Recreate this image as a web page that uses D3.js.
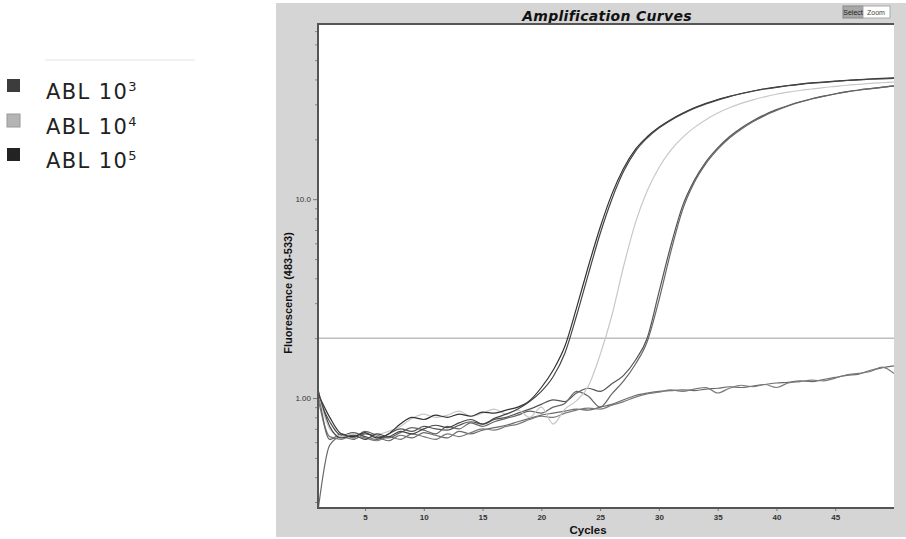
<!DOCTYPE html>
<html>
<head>
<meta charset="utf-8">
<script src="https://cdn.jsdelivr.net/npm/d3@7"></script>
<style>
  body { margin: 0; background: #fff; }
  svg { display: block; }
</style>
</head>
<body>
<div id="chart"></div>
<script>

// cycles 1..50
var cycles = d3.range(1, 51)

// fluorescence (483-533), one value per cycle
var abl5a = [1.05,0.80,0.66,0.64,0.67,0.63,0.66,0.74,0.80,0.78,0.82,0.80,0.83,0.81,0.85,0.84,0.87,0.90,0.97,1.13,
             1.38,1.82,2.85,4.6,7.2,10.6,14.3,17.8,20.6,23.0,25.1,27.0,28.8,30.3,31.7,32.9,34.0,35.0,35.9,36.6,
             37.3,37.9,38.4,38.8,39.2,39.6,39.9,40.2,40.5,40.8]
var abl5b = [1.10,0.72,0.63,0.65,0.62,0.66,0.64,0.68,0.66,0.70,0.73,0.71,0.75,0.78,0.74,0.79,0.83,0.88,0.96,1.08,
             1.28,1.68,2.6,4.2,6.7,10.0,13.8,17.4,20.3,22.8,24.9,26.8,28.6,30.1,31.5,32.8,33.9,34.9,35.8,36.5,
             37.2,37.8,38.3,38.7,39.1,39.5,39.8,40.1,40.3,40.5]
var abl4a = [1.08,0.70,0.64,0.66,0.62,0.65,0.68,0.72,0.79,0.83,0.80,0.82,0.86,0.81,0.84,0.88,0.83,0.87,0.80,0.90,
             0.74,0.88,0.97,1.15,1.65,2.6,4.6,7.6,11.0,14.4,17.6,20.4,22.9,25.1,27.1,28.8,30.3,31.6,32.7,33.7,
             34.5,35.2,35.8,36.4,36.9,37.4,37.8,38.2,38.5,38.8]
var abl3a = [1.02,0.76,0.65,0.67,0.64,0.62,0.66,0.70,0.68,0.72,0.70,0.69,0.73,0.76,0.74,0.78,0.80,0.84,0.88,0.93,
             0.98,0.96,1.06,1.12,1.08,1.18,1.30,1.55,2.0,3.4,5.8,9.2,12.4,15.4,18.1,20.6,22.8,24.8,26.6,28.2,
             29.6,30.9,32.0,33.0,33.9,34.7,35.4,36.0,36.6,37.1]
var abl3b = [1.12,0.62,0.66,0.63,0.68,0.65,0.63,0.67,0.71,0.69,0.66,0.72,0.70,0.75,0.72,0.76,0.79,0.82,0.86,0.84,
             0.90,0.94,1.08,1.02,0.90,1.05,1.22,1.48,1.92,3.1,5.4,8.8,12.1,15.1,17.8,20.3,22.5,24.5,26.3,27.9,
             29.4,30.7,31.9,32.9,33.8,34.6,35.3,35.9,36.5,37.0]
var flatA = [0.27,0.58,0.64,0.62,0.66,0.64,0.61,0.65,0.63,0.67,0.65,0.63,0.68,0.66,0.69,0.71,0.73,0.76,0.79,0.82,
             0.84,0.86,0.88,0.87,0.90,0.93,0.98,1.03,1.06,1.08,1.09,1.10,1.09,1.11,1.12,1.14,1.13,1.15,1.17,1.19,
             1.20,1.22,1.21,1.24,1.27,1.30,1.32,1.38,1.42,1.45]
var flatB = [1.00,0.64,0.62,0.65,0.63,0.61,0.64,0.62,0.66,0.64,0.62,0.66,0.64,0.67,0.70,0.69,0.72,0.74,0.78,0.81,
             0.80,0.84,0.87,0.89,0.88,0.92,0.96,1.01,1.05,1.07,1.10,1.08,1.11,1.13,1.06,1.12,1.16,1.14,1.17,1.13,
             1.19,1.21,1.23,1.22,1.26,1.31,1.33,1.36,1.43,1.33]

var threshold = 2.0

var series = [
    {name: 'flatA', color: '#6a6a6a', values: flatA},
    {name: 'flatB', color: '#7a7a7a', values: flatB},
    {name: 'abl3a', color: '#555', values: abl3a},
    {name: 'abl3b', color: '#666', values: abl3b},
    {name: 'abl4a', color: '#c8c8c8', values: abl4a},
    {name: 'abl5a', color: '#333', values: abl5a},
    {name: 'abl5b', color: '#454545', values: abl5b}
]

var legendLabels = ['ABL 10', 'ABL 10', 'ABL 10']
var legendPowers = ['3', '4', '5']
var legendColors = ['#3c3c3c', '#b4b4b4', '#232323']

var xTicks = [5, 10, 15, 20, 25, 30, 35, 40, 45]
var yMinor = [0.3,0.4,0.5,0.6,0.7,0.8,0.9,2,3,4,5,6,7,8,9,20,30,40,50,60,70]
var yMajor = [1, 10]
var yLabels = ['1.00', '10.0']

var width = 906,
    height = 539,
    plot = {left: 318, right: 894, top: 24, bottom: 508}

var xScale = d3.scaleLinear().domain([1, 50]).range([plot.left, plot.right])
var yScale = d3.scaleLog().domain([0.28, 76]).range([plot.bottom, plot.top])

var svg = d3.select('#chart')
    .append('svg')
    .attr('width', width)
    .attr('height', height)

// ---- legend ----

svg.append('line')
    .attr('x1', 45).attr('x2', 195)
    .attr('y1', 60).attr('y2', 60)
    .attr('stroke', '#eeeeee')
    .attr('stroke-width', 1.5)

var legend = svg.append('g')
    .selectAll('g')
    .data(legendLabels)
    .join('g')
    .attr('transform', (d, i) => `translate(0,${[0, 35, 69][i]})`)

legend.append('rect')
    .attr('x', 7).attr('y', 79)
    .attr('width', 13).attr('height', 13)
    .attr('fill', (d, i) => legendColors[i])
    .attr('stroke', (d, i) => i == 1 ? '#999' : 'none')

var legendText = legend.append('text')
    .attr('x', 46)
    .attr('y', 99)
    .attr('font-family', 'DejaVu Sans')
    .attr('font-size', '21px')
    .attr('letter-spacing', '1.4px')
    .attr('fill', '#222')

legendText.append('tspan').text(d => d)
legendText.append('tspan')
    .attr('dy', '-8')
    .attr('font-size', '13px')
    .attr('letter-spacing', '0px')
    .text((d, i) => legendPowers[i])

// ---- instrument panel ----

svg.append('rect')
    .attr('x', 276).attr('y', 3)
    .attr('width', 630).attr('height', 534)
    .attr('fill', '#d5d5d5')

svg.append('rect')
    .attr('x', plot.left).attr('y', plot.top)
    .attr('width', plot.right - plot.left)
    .attr('height', plot.bottom - plot.top)
    .attr('fill', '#fff')

svg.append('text')
    .attr('x', 607)
    .attr('y', 21)
    .attr('text-anchor', 'middle')
    .attr('font-family', 'DejaVu Sans')
    .attr('font-style', 'italic')
    .attr('font-weight', 'bold')
    .attr('font-size', '14px')
    .attr('letter-spacing', '0.3px')
    .attr('fill', '#111')
    .text('Amplification Curves')

// select / zoom buttons
svg.append('rect')
    .attr('x', 843).attr('y', 6)
    .attr('width', 20).attr('height', 12)
    .attr('fill', '#a8a8a8')
    .attr('stroke', '#888')
svg.append('rect')
    .attr('x', 863).attr('y', 6)
    .attr('width', 27).attr('height', 12)
    .attr('fill', '#fff')
    .attr('stroke', '#aaa')
svg.append('text')
    .attr('x', 853).attr('y', 15)
    .attr('text-anchor', 'middle')
    .attr('font-family', 'Liberation Sans Narrow, Liberation Sans')
    .attr('font-size', '7px')
    .attr('fill', '#222')
    .text('Select')
svg.append('text')
    .attr('x', 876).attr('y', 15)
    .attr('text-anchor', 'middle')
    .attr('font-family', 'Liberation Sans Narrow, Liberation Sans')
    .attr('font-size', '7px')
    .attr('fill', '#444')
    .text('Zoom')

// ---- curves ----

svg.append('clipPath')
    .attr('id', 'clip')
    .append('rect')
    .attr('x', plot.left).attr('y', plot.top)
    .attr('width', plot.right - plot.left)
    .attr('height', plot.bottom - plot.top)

var line = d3.line()
    .x((d, i) => xScale(cycles[i]))
    .y(d => yScale(d))
    .curve(d3.curveMonotoneX)

var curves = svg.append('g').attr('clip-path', 'url(#clip)')

curves.append('line')
    .attr('x1', plot.left).attr('x2', plot.right)
    .attr('y1', yScale(threshold)).attr('y2', yScale(threshold))
    .attr('stroke', '#bdbdbd')
    .attr('stroke-width', 1.6)

curves.selectAll('path')
    .data(series)
    .join('path')
    .attr('fill', 'none')
    .attr('stroke', d => d.color)
    .attr('stroke-width', 1.2)
    .attr('d', d => line(d.values))

// ---- axes ----

var yAxisMinor = d3.axisLeft(yScale)
    .tickValues(yMinor)
    .tickSize(3)
    .tickFormat('')

var yAxis = d3.axisLeft(yScale)
    .tickValues(yMajor)
    .tickSize(5)
    .tickPadding(2)
    .tickFormat((d, i) => yLabels[i])

var xAxis = d3.axisBottom(xScale)
    .tickValues(xTicks)
    .tickSize(3)
    .tickPadding(3)

svg.append('g')
    .attr('transform', `translate(${plot.left},0)`)
    .call(yAxisMinor)
    .call(g => g.select('.domain').remove())
    .call(g => g.selectAll('line').attr('stroke', '#888'))

svg.append('g')
    .attr('transform', `translate(${plot.left},0)`)
    .call(yAxis)
    .call(g => g.select('.domain').remove())
    .call(g => g.selectAll('line').attr('stroke', '#777'))
    .call(g => g.selectAll('text')
        .attr('font-family', 'Liberation Sans Narrow, Liberation Sans')
        .attr('font-size', '8px')
        .attr('fill', '#333'))

svg.append('g')
    .attr('transform', `translate(0,${plot.bottom})`)
    .call(xAxis)
    .call(g => g.select('.domain').remove())
    .call(g => g.selectAll('line').attr('stroke', '#777'))
    .call(g => g.selectAll('text')
        .attr('font-family', 'Liberation Sans Narrow, Liberation Sans')
        .attr('font-size', '8px')
        .attr('font-weight', 'bold')
        .attr('fill', '#333'))

// frame: dark top, left and bottom edges
svg.append('path')
    .attr('d', `M${plot.right},${plot.top}H${plot.left}V${plot.bottom}H${plot.right}`)
    .attr('fill', 'none')
    .attr('stroke', '#555')
    .attr('stroke-width', 2)

svg.append('text')
    .attr('x', 588)
    .attr('y', 534)
    .attr('text-anchor', 'middle')
    .attr('font-family', 'Liberation Sans Narrow, Liberation Sans')
    .attr('font-weight', 'bold')
    .attr('font-size', '11.5px')
    .attr('fill', '#111')
    .text('Cycles')

svg.append('text')
    .attr('transform', `translate(292,293) rotate(-90)`)
    .attr('text-anchor', 'middle')
    .attr('font-family', 'Liberation Sans Narrow, Liberation Sans')
    .attr('font-weight', 'bold')
    .attr('font-size', '11px')
    .attr('fill', '#111')
    .text('Fluorescence (483-533)')

</script>
</body>
</html>
